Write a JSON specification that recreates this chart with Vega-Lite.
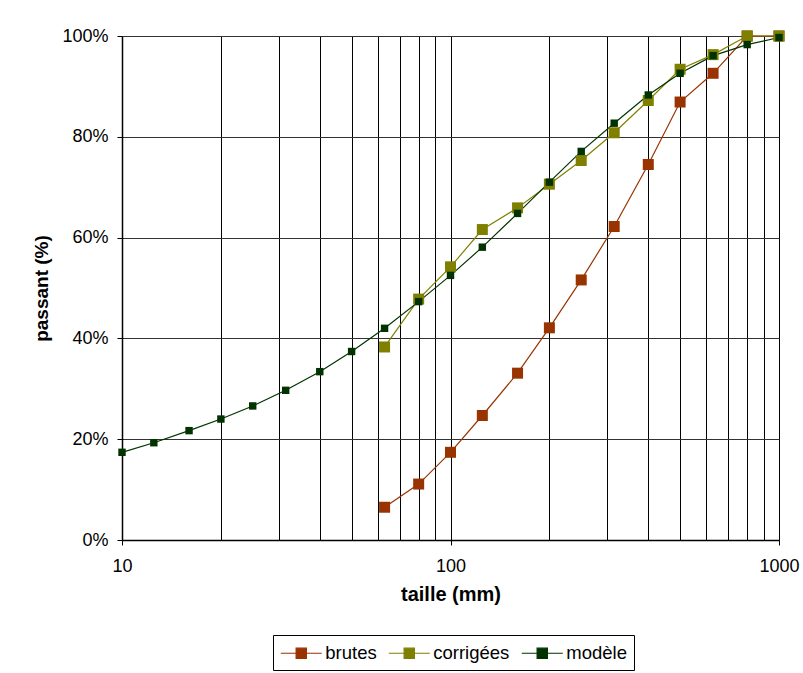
{
  "$schema": "https://vega.github.io/schema/vega-lite/v6.json",
  "width": 657,
  "height": 504,
  "autosize": "none",
  "padding": {"left": 122, "top": 36, "right": 24, "bottom": 133},
  "background": "white",
  "config": {
    "font": "Liberation Sans",
    "view": {"stroke": null},
    "axis": {"labelFont": "Liberation Sans", "titleFont": "Liberation Sans", "labelColor": "#000", "titleColor": "#000", "domainColor": "#000", "tickColor": "#000"},
    "legend": {"symbolSize": 420}
  },
  "data": {"values": [
    {"taille": 63, "passant": 6.5, "serie": "brutes"},
    {"taille": 80, "passant": 11.1, "serie": "brutes"},
    {"taille": 100, "passant": 17.4, "serie": "brutes"},
    {"taille": 125, "passant": 24.7, "serie": "brutes"},
    {"taille": 160, "passant": 33.1, "serie": "brutes"},
    {"taille": 200, "passant": 42.1, "serie": "brutes"},
    {"taille": 250, "passant": 51.6, "serie": "brutes"},
    {"taille": 315, "passant": 62.2, "serie": "brutes"},
    {"taille": 400, "passant": 74.5, "serie": "brutes"},
    {"taille": 500, "passant": 86.9, "serie": "brutes"},
    {"taille": 630, "passant": 92.6, "serie": "brutes"},
    {"taille": 800, "passant": 100, "serie": "brutes"},
    {"taille": 1000, "passant": 100, "serie": "brutes"},
    {"taille": 63, "passant": 38.3, "serie": "corrigées"},
    {"taille": 80, "passant": 47.8, "serie": "corrigées"},
    {"taille": 100, "passant": 54.2, "serie": "corrigées"},
    {"taille": 125, "passant": 61.6, "serie": "corrigées"},
    {"taille": 160, "passant": 65.9, "serie": "corrigées"},
    {"taille": 200, "passant": 70.6, "serie": "corrigées"},
    {"taille": 250, "passant": 75.3, "serie": "corrigées"},
    {"taille": 315, "passant": 80.8, "serie": "corrigées"},
    {"taille": 400, "passant": 87.2, "serie": "corrigées"},
    {"taille": 500, "passant": 93.4, "serie": "corrigées"},
    {"taille": 630, "passant": 96.3, "serie": "corrigées"},
    {"taille": 800, "passant": 100, "serie": "corrigées"},
    {"taille": 1000, "passant": 100, "serie": "corrigées"},
    {"taille": 10, "passant": 17.4, "serie": "modèle"},
    {"taille": 12.5, "passant": 19.3, "serie": "modèle"},
    {"taille": 16, "passant": 21.7, "serie": "modèle"},
    {"taille": 20, "passant": 24.0, "serie": "modèle"},
    {"taille": 25, "passant": 26.6, "serie": "modèle"},
    {"taille": 31.5, "passant": 29.7, "serie": "modèle"},
    {"taille": 40, "passant": 33.4, "serie": "modèle"},
    {"taille": 50, "passant": 37.4, "serie": "modèle"},
    {"taille": 63, "passant": 42.0, "serie": "modèle"},
    {"taille": 80, "passant": 47.3, "serie": "modèle"},
    {"taille": 100, "passant": 52.5, "serie": "modèle"},
    {"taille": 125, "passant": 58.1, "serie": "modèle"},
    {"taille": 160, "passant": 64.8, "serie": "modèle"},
    {"taille": 200, "passant": 71.0, "serie": "modèle"},
    {"taille": 250, "passant": 77.1, "serie": "modèle"},
    {"taille": 315, "passant": 82.7, "serie": "modèle"},
    {"taille": 400, "passant": 88.3, "serie": "modèle"},
    {"taille": 500, "passant": 92.6, "serie": "modèle"},
    {"taille": 630, "passant": 96.1, "serie": "modèle"},
    {"taille": 800, "passant": 98.3, "serie": "modèle"},
    {"taille": 1000, "passant": 99.7, "serie": "modèle"}
  ]},
  "encoding": {
    "x": {
      "field": "taille", "type": "quantitative",
      "scale": {"type": "log", "domain": [10, 1000], "nice": false},
      "axis": {
        "title": "taille (mm)",
        "values": [10, 20, 30, 40, 50, 60, 70, 80, 90, 100, 200, 300, 400, 500, 600, 700, 800, 900, 1000],
        "format": "d",
        "labelExpr": "(datum.value == 10 || datum.value == 100 || datum.value == 1000) ? datum.label : ''",
        "tickOpacity": {"condition": {"test": "datum.value == 10 || datum.value == 100 || datum.value == 1000", "value": 1}, "value": 0},
        "grid": true, "gridColor": "#000", "gridOpacity": 1, "gridWidth": 1,
        "tickSize": 5, "labelPadding": 12, "labelFontSize": 18, "labelFlush": false,
        "titleFontSize": 20, "titleFontWeight": "bold", "titlePadding": 9,
        "domainWidth": 1.5
      }
    },
    "y": {
      "field": "passant", "type": "quantitative",
      "scale": {"domain": [0, 100], "nice": false},
      "axis": {
        "title": "passant (%)",
        "values": [0, 20, 40, 60, 80, 100],
        "labelExpr": "datum.value + '%'",
        "grid": true, "gridColor": "#333", "gridOpacity": 1, "gridWidth": 1,
        "tickSize": 5, "labelPadding": 9, "labelFontSize": 18,
        "titleFontSize": 19, "titleFontWeight": "bold", "titlePadding": 10,
        "domainWidth": 1.5
      }
    },
    "color": {
      "field": "serie", "type": "nominal",
      "scale": {"domain": ["brutes", "corrigées", "modèle"], "range": ["#993300", "#808000", "#003300"]},
      "legend": {
        "title": null,
        "orient": "none",
        "legendX": 151,
        "legendY": 599,
        "direction": "horizontal",
        "strokeColor": "#000",
        "fillColor": "#fff",
        "padding": 7,
        "labelFontSize": 18.5,
        "labelColor": "#000",
        "labelOffset": 13,
        "columnPadding": 9,
        "symbolType": "M-2,0L2,0M-0.5,-0.5L0.5,-0.5L0.5,0.5L-0.5,0.5Z",
        "symbolSize": 420,
        "symbolOffset": 10.25,
        "symbolStrokeWidth": 1.2,
        "symbolOpacity": 1,
        "encode": {"symbols": {"update": {"fill": {"scale": "color", "field": "value"}, "stroke": {"scale": "color", "field": "value"}}}}
      }
    }
  },
  "layer": [
    {"mark": {"type": "line", "strokeWidth": 1.2}, "encoding": {}},
    {
      "transform": [{"filter": "datum.serie != 'modèle'"}],
      "mark": {"type": "point", "shape": "square", "filled": true, "opacity": 1, "size": 121},
      "encoding": {}
    },
    {
      "transform": [{"filter": "datum.serie == 'modèle'"}],
      "mark": {"type": "point", "shape": "square", "filled": true, "opacity": 1, "size": 55},
      "encoding": {}
    }
  ]
}
